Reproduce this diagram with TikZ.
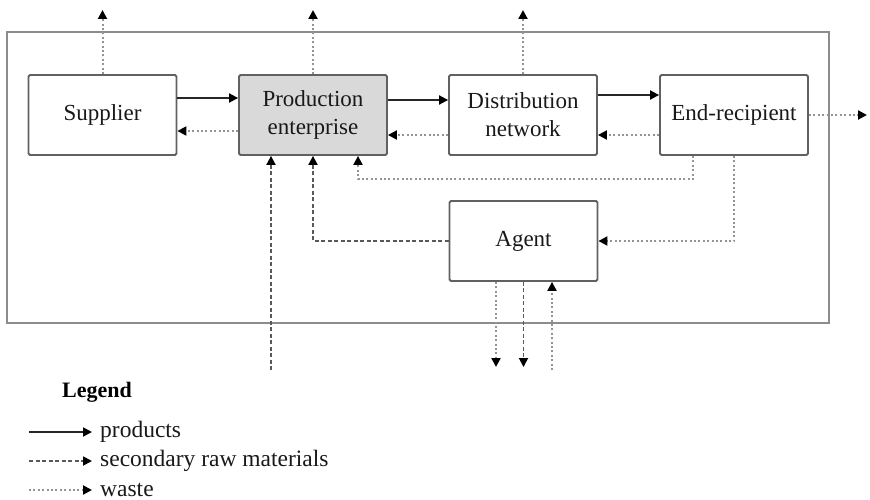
\documentclass[tikz,border=0pt]{standalone}
\usepackage{fontspec}
\setmainfont{Liberation Serif}
\usetikzlibrary{arrows.meta}

\tikzset{
  box/.style={draw=black!62, line width=1.8pt, rounded corners=1.5pt,
    minimum width=148pt, minimum height=80pt, inner sep=0pt, align=center,
    font=\fontsize{23}{28}\selectfont, text=black!90},
  tipx/.style={-{Triangle[length=9pt,width=9pt,color=black]}},
  products/.style={tipx, draw=black!85, line width=1.8pt},
  secondary/.style={tipx, draw=black!65, line width=1.8pt, dash pattern=on 4pt off 2.5pt},
  waste/.style={tipx, draw=black!42, line width=2pt, dash pattern=on 2pt off 2.4pt},
  legtext/.style={anchor=west, inner sep=0pt, font=\fontsize{23.5}{27}\selectfont, text=black!90}
}

\begin{document}
\begin{tikzpicture}[x=1pt, y=-1pt]
  \useasboundingbox (0,0) rectangle (870,500);

  % system boundary
  \draw[draw=black!45, line width=2pt] (7,32) rectangle (829,323);

  % actors
  \node[box] (sup) at (102.5,115) {Supplier};
  \node[box, fill=black!15] (prod) at (313,115) {Production\\enterprise};
  \node[box] (dist) at (523,115) {Distribution\\network};
  \node[box] (endr) at (734,115) {End-recipient};
  \node[box] (agent) at (523.5,241) {Agent};

  % free ends outside the boundary
  \coordinate (supOut) at (102.5,10);
  \coordinate (prodOut) at (313,10);
  \coordinate (distOut) at (523,10);
  \coordinate (endOut) at (867,115);
  \coordinate (rawIn) at (271,370);
  \coordinate (agentWaste) at (496,367);
  \coordinate (agentRaw) at (523.5,367);
  \coordinate (agentIn) at (552,370);

  % product flow
  \draw[products] ([yshift=17pt]sup.east) -- ([yshift=17pt]prod.west);
  \draw[products] ([yshift=15pt]prod.east) -- ([yshift=15pt]dist.west);
  \draw[products] ([yshift=20pt]dist.east) -- ([yshift=20pt]endr.west);

  % waste flowing back
  \draw[waste] ([yshift=-16pt]prod.west) -- ([yshift=-16pt]sup.east);
  \draw[waste] ([yshift=-20pt]dist.west) -- ([yshift=-20pt]prod.east);
  \draw[waste] ([yshift=-20pt]endr.west) -- ([yshift=-20pt]dist.east);
  \draw[waste] ([xshift=-41pt]endr.south) -- ++(0,23) -| ([xshift=45pt]prod.south);
  \draw[waste] (endr.south) |- (agent.east);

  % emissions
  \draw[waste] (sup.north) -- (supOut);
  \draw[waste] (prod.north) -- (prodOut);
  \draw[waste] (dist.north) -- (distOut);
  \draw[waste] (endr.east) -- (endOut);

  % secondary raw materials
  \draw[secondary] (agent.west) -| (prod.south);
  \draw[secondary] (rawIn) -- ([xshift=-42pt]prod.south);
  \draw[secondary] (agent.south) -- (agentRaw);
  \draw[waste] ([xshift=-27.5pt]agent.south) -- (agentWaste);
  \draw[waste] (agentIn) -- ([xshift=28.5pt]agent.south);

  % legend
  \node[anchor=base west, inner sep=0pt, font=\fontsize{22}{26}\selectfont\bfseries] (legend) at (62,397) {Legend};
  \coordinate (l1a) at (29,432);
  \coordinate (l2a) at (29,461);
  \coordinate (l3a) at (29,490);
  \node[legtext] (l1) at (100,432) {products};
  \node[legtext] (l2) at (100,461) {secondary raw materials};
  \node[legtext] (l3) at (100,490) {waste};
  \draw[products] (l1a) -- ([xshift=-8pt]l1.west);
  \draw[secondary] (l2a) -- ([xshift=-8pt]l2.west);
  \draw[waste] (l3a) -- ([xshift=-8pt]l3.west);
\end{tikzpicture}
\end{document}
